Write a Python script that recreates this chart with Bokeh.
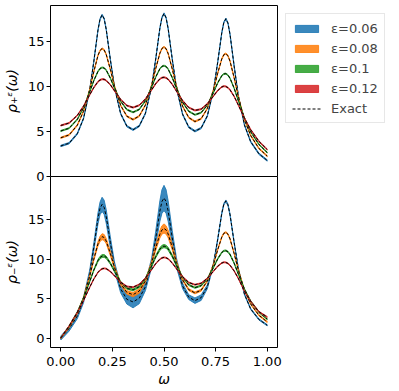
from bokeh.plotting import figure
from bokeh.models import FixedTicker, NumeralTickFormatter, Range1d, Legend, LegendItem
from bokeh.layouts import column
from bokeh.embed import file_html
from bokeh.resources import INLINE

# ---------------- data ----------------
omega = [0.0, 0.04, 0.08, 0.11, 0.14, 0.16, 0.18, 0.19, 0.20, 0.21,
         0.22, 0.24, 0.26, 0.29, 0.32, 0.35, 0.38, 0.41, 0.44, 0.46,
         0.48, 0.49, 0.50, 0.51, 0.52, 0.54, 0.56, 0.59, 0.62, 0.65,
         0.68, 0.71, 0.74, 0.76, 0.78, 0.79, 0.80, 0.81, 0.82, 0.84,
         0.86, 0.89, 0.92, 0.96, 1.00]

eps_labels = ["ε=0.06", "ε=0.08", "ε=0.1", "ε=0.12"]

rho_plus_006 = [3.41, 3.71, 4.77, 6.47, 9.64, 12.84, 16.32, 17.55, 18.02, 17.60,
                16.41, 13.04, 9.95, 7.01, 5.61, 5.21, 5.63, 7.04, 10.02, 13.12,
                16.53, 17.72, 18.17, 17.71, 16.51, 13.08, 9.95, 6.95, 5.50, 5.05,
                5.40, 6.75, 9.65, 12.70, 16.03, 17.19, 17.59, 17.10, 15.84, 12.30,
                9.03, 5.74, 3.88, 2.53, 1.79]
rho_plus_008 = [4.32, 4.63, 5.72, 7.28, 9.71, 11.70, 13.49, 14.05, 14.27, 14.11,
                13.61, 11.95, 10.09, 7.92, 6.72, 6.35, 6.74, 7.97, 10.17, 12.05,
                13.75, 14.27, 14.45, 14.25, 13.72, 12.00, 10.09, 7.84, 6.57, 6.13,
                6.44, 7.59, 9.69, 11.50, 13.11, 13.58, 13.71, 13.45, 12.86, 11.00,
                8.91, 6.32, 4.57, 3.13, 2.28]
rho_plus_010 = [5.08, 5.38, 6.37, 7.67, 9.44, 10.70, 11.72, 12.03, 12.16, 12.10,
                11.86, 10.98, 9.87, 8.39, 7.46, 7.16, 7.48, 8.44, 9.96, 11.10,
                12.01, 12.27, 12.36, 12.26, 11.98, 11.03, 9.86, 8.28, 7.27, 6.88,
                7.12, 7.97, 9.38, 10.43, 11.24, 11.44, 11.47, 11.30, 10.95, 9.84,
                8.47, 6.52, 4.99, 3.58, 2.68]
rho_plus_012 = [5.69, 5.96, 6.81, 7.84, 9.11, 9.93, 10.57, 10.76, 10.85, 10.83,
                10.71, 10.23, 9.57, 8.58, 7.91, 7.69, 7.94, 8.64, 9.66, 10.36,
                10.88, 11.02, 11.06, 11.00, 10.84, 10.28, 9.54, 8.46, 7.69, 7.37,
                7.51, 8.10, 8.99, 9.58, 9.99, 10.07, 10.04, 9.90, 9.66, 8.93,
                7.98, 6.50, 5.22, 3.92, 3.02]

rho_minus_006 = [0.00, 1.17, 2.80, 4.80, 8.20, 11.53, 15.13, 16.41, 16.92, 16.55,
                 15.40, 12.10, 9.08, 6.22, 4.90, 4.57, 5.04, 6.50, 9.51, 12.64,
                 16.07, 17.28, 17.73, 17.29, 16.09, 12.69, 9.58, 6.59, 5.17, 4.73,
                 5.11, 6.48, 9.38, 12.44, 15.79, 16.95, 17.36, 16.86, 15.61, 12.08,
                 8.81, 5.54, 3.68, 2.35, 1.62]
rho_minus_008 = [0.00, 1.37, 3.16, 5.10, 7.83, 9.99, 11.92, 12.55, 12.83, 12.73,
                 12.28, 10.71, 8.94, 6.88, 5.78, 5.49, 5.95, 7.25, 9.50, 11.42,
                 13.14, 13.68, 13.87, 13.69, 13.17, 11.48, 9.59, 7.37, 6.12, 5.71,
                 6.05, 7.22, 9.34, 11.16, 12.78, 13.26, 13.39, 13.14, 12.55, 10.70,
                 8.63, 6.05, 4.31, 2.88, 2.04]
rho_minus_010 = [0.00, 1.48, 3.28, 5.02, 7.15, 8.61, 9.80, 10.18, 10.38, 10.39,
                 10.22, 9.46, 8.46, 7.10, 6.29, 6.09, 6.50, 7.54, 9.13, 10.31,
                 11.26, 11.54, 11.64, 11.56, 11.30, 10.38, 9.24, 7.70, 6.72, 6.37,
                 6.63, 7.51, 8.95, 10.01, 10.83, 11.04, 11.07, 10.91, 10.57, 9.47,
                 8.12, 6.18, 4.66, 3.28, 2.40]
rho_minus_012 = [0.00, 1.51, 3.23, 4.76, 6.43, 7.48, 8.31, 8.59, 8.76, 8.82,
                 8.78, 8.43, 7.89, 7.06, 6.53, 6.43, 6.78, 7.57, 8.67, 9.42,
                 9.98, 10.14, 10.21, 10.16, 10.02, 9.50, 8.80, 7.76, 7.03, 6.75,
                 6.93, 7.55, 8.47, 9.08, 9.50, 9.59, 9.57, 9.44, 9.21, 8.49,
                 7.56, 5.92, 4.64, 3.32, 2.67]

# half-widths of the reconstruction bands
err_plus = [0.08, 0.07, 0.06, 0.06]
err_minus_006 = [0.25, 0.30, 0.35, 0.35, 0.40, 0.50, 0.70, 0.80, 0.90, 0.90,
                 0.85, 0.70, 0.55, 0.50, 0.60, 0.75, 0.70, 0.50, 0.60, 0.90,
                 1.30, 1.50, 1.60, 1.50, 1.30, 0.90, 0.60, 0.35, 0.30, 0.35,
                 0.35, 0.25, 0.15, 0.12, 0.12, 0.12, 0.12, 0.12, 0.12, 0.10,
                 0.08, 0.08, 0.08, 0.08, 0.08]
err_minus_008 = [0.08, 0.08, 0.10, 0.10, 0.12, 0.18, 0.28, 0.33, 0.38, 0.38,
                 0.33, 0.28, 0.18, 0.18, 0.22, 0.28, 0.28, 0.18, 0.22, 0.33,
                 0.48, 0.53, 0.58, 0.53, 0.48, 0.33, 0.22, 0.12, 0.12, 0.12,
                 0.12, 0.08, 0.08, 0.08, 0.08, 0.08, 0.08, 0.08, 0.08, 0.08,
                 0.08, 0.08, 0.08, 0.08, 0.08]
err_minus_010 = [0.08, 0.08, 0.08, 0.08, 0.08, 0.10, 0.14, 0.16, 0.18, 0.18,
                 0.16, 0.12, 0.10, 0.08, 0.10, 0.12, 0.12, 0.10, 0.12, 0.15,
                 0.18, 0.20, 0.20, 0.20, 0.18, 0.15, 0.12, 0.08, 0.08, 0.08,
                 0.08, 0.08, 0.08, 0.08, 0.08, 0.08, 0.08, 0.08, 0.08, 0.08,
                 0.08, 0.08, 0.08, 0.08, 0.08]
err_minus_012 = [0.06, 0.06, 0.06, 0.06, 0.06, 0.06, 0.06, 0.06, 0.06, 0.06,
                 0.06, 0.06, 0.06, 0.06, 0.06, 0.06, 0.06, 0.06, 0.06, 0.06,
                 0.06, 0.06, 0.06, 0.06, 0.06, 0.06, 0.06, 0.06, 0.06, 0.06,
                 0.06, 0.06, 0.06, 0.06, 0.06, 0.06, 0.06, 0.06, 0.06, 0.06,
                 0.06, 0.06, 0.06, 0.06, 0.06]

x_ticks = [0.0, 0.25, 0.5, 0.75, 1.0]
y_ticks = [0, 5, 10, 15]

# ---------------- styling ----------------
colors = ["#1f77b4", "#ff7f0e", "#2ca02c", "#d62728"]
FONT = "DejaVu Sans"
ALPHA = 0.88

rho_plus = [rho_plus_006, rho_plus_008, rho_plus_010, rho_plus_012]
rho_minus = [rho_minus_006, rho_minus_008, rho_minus_010, rho_minus_012]
err_minus = [err_minus_006, err_minus_008, err_minus_010, err_minus_012]

x_range = Range1d(-0.05, 1.05)


def style(p, ylabel):
    p.grid.visible = False
    p.outline_line_color = "black"
    p.outline_line_width = 1
    p.outline_line_alpha = 1
    ax = p.yaxis[0]
    ax.ticker = FixedTicker(ticks=y_ticks)
    ax.axis_line_color = None
    ax.major_tick_out = 4
    ax.major_tick_in = 0
    ax.minor_tick_out = 0
    ax.minor_tick_in = 0
    ax.major_tick_line_color = "black"
    ax.major_label_standoff = 2
    ax.major_label_text_font = FONT
    ax.major_label_text_font_size = "13px"
    ax.major_label_text_color = "black"
    ax.axis_label = ylabel
    ax.axis_label_text_font = FONT
    ax.axis_label_text_font_size = "14px"
    ax.axis_label_text_font_style = "italic"
    ax.axis_label_text_color = "black"
    ax.axis_label_standoff = 5


def band(p, x, lo, hi, color):
    xs = list(x) + list(x)[::-1]
    ys = list(lo) + list(hi)[::-1]
    return p.patch(x=xs, y=ys, fill_color=color, fill_alpha=ALPHA,
                   line_color=color, line_alpha=ALPHA, line_width=1)


p1 = figure(frame_width=227, frame_height=171, x_range=x_range,
            y_range=Range1d(0, 19.07), output_backend="svg",
            toolbar_location=None, x_axis_location=None,
            min_border_left=42, min_border_right=118,
            min_border_top=5, min_border_bottom=10)
style(p1, "ρ₊ᵋ(ω)")

band_renderers = []
exact_renderers = []
for i in range(4):
    lo = [v - err_plus[i] for v in rho_plus[i]]
    hi = [v + err_plus[i] for v in rho_plus[i]]
    b = band(p1, omega, lo, hi, colors[i])
    l = p1.line(x=omega, y=rho_plus[i], line_color="black", line_width=1,
                line_dash="3 2")
    band_renderers.append(b)
    exact_renderers.append(l)

items = [LegendItem(label=eps_labels[i], renderers=[band_renderers[i]]) for i in range(4)]
items.append(LegendItem(label="Exact", renderers=[exact_renderers[0]]))
legend = Legend(items=items, location="top_left", margin=8, padding=6,
                spacing=4, glyph_width=29, glyph_height=9, label_standoff=10,
                label_text_font=FONT, label_text_font_size="13px",
                label_height=16, border_line_color="#d0d0d0",
                border_line_width=1, background_fill_alpha=1)
p1.add_layout(legend, "right")

p2 = figure(frame_width=227, frame_height=171, x_range=x_range,
            y_range=Range1d(-1.2, 20.45), output_backend="svg",
            toolbar_location=None,
            min_border_left=42, min_border_right=10,
            min_border_top=0, min_border_bottom=42)
p2.margin = (-10, 0, 0, 0)
p2.border_fill_color = None
style(p2, "ρ₋ᵋ(ω)")
xa = p2.xaxis[0]
xa.ticker = FixedTicker(ticks=x_ticks)
xa.formatter = NumeralTickFormatter(format="0.00")
xa.axis_line_color = None
xa.major_tick_out = 4
xa.major_tick_in = 0
xa.minor_tick_out = 0
xa.minor_tick_in = 0
xa.major_tick_line_color = "black"
xa.major_label_standoff = 5
xa.major_label_text_font = FONT
xa.major_label_text_font_size = "13px"
xa.major_label_text_color = "black"
xa.axis_label = "ω"
xa.axis_label_text_font = FONT
xa.axis_label_text_font_size = "14px"
xa.axis_label_text_font_style = "italic"
xa.axis_label_text_color = "black"
xa.axis_label_standoff = 2

for i in range(4):
    lo = [v - e for v, e in zip(rho_minus[i], err_minus[i])]
    hi = [v + e for v, e in zip(rho_minus[i], err_minus[i])]
    band(p2, omega, lo, hi, colors[i])
    p2.line(x=omega, y=rho_minus[i], line_color="black", line_width=1,
            line_dash="3 2")

layout = column(p1, p2)
open("out.html", "w").write(file_html(layout, INLINE))
